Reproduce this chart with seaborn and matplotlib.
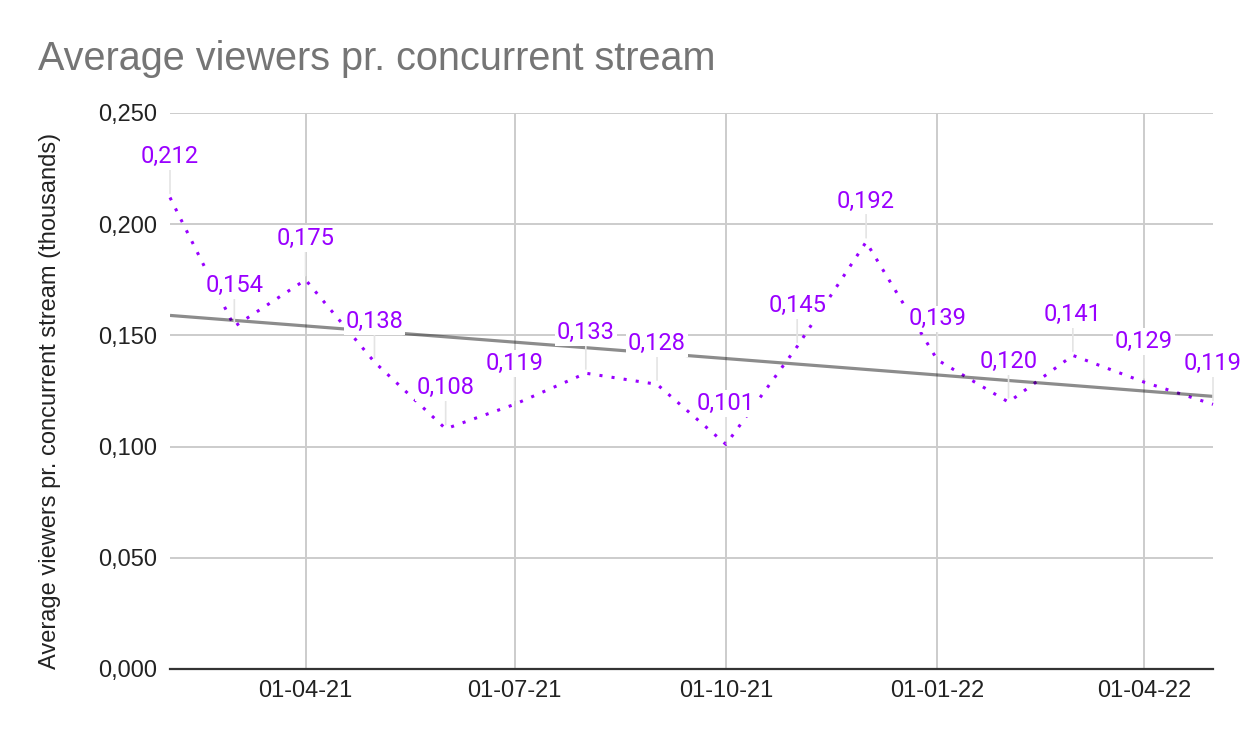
import matplotlib
matplotlib.use("Agg")
import matplotlib.pyplot as plt
import matplotlib.dates as mdates
from matplotlib.ticker import FuncFormatter, MultipleLocator
import seaborn as sns
import pandas as pd
import numpy as np

# ---- data ----
months = ["2021-02-01", "2021-03-01", "2021-04-01", "2021-05-01", "2021-06-01",
          "2021-07-01", "2021-08-01", "2021-09-01", "2021-10-01", "2021-11-01",
          "2021-12-01", "2022-01-01", "2022-02-01", "2022-03-01", "2022-04-01",
          "2022-05-01"]
viewers = [0.212, 0.154, 0.175, 0.138, 0.108, 0.119, 0.133, 0.128, 0.101,
           0.145, 0.192, 0.139, 0.120, 0.141, 0.129, 0.119]
x_ticks = ["2021-04-01", "2021-07-01", "2021-10-01", "2022-01-01", "2022-04-01"]
y_ticks = [0.0, 0.05, 0.10, 0.15, 0.20, 0.25]

title = "Average viewers pr. concurrent stream"
ylabel = "Average viewers pr. concurrent stream (thousands)"

df = pd.DataFrame({"date": pd.to_datetime(months), "viewers": viewers})
df["num"] = mdates.date2num(df["date"])

sns.set_style("white")
plt.rcParams["font.family"] = ["Liberation Sans", "DejaVu Sans"]

fig = plt.figure(figsize=(12.5, 7.42), dpi=100)
ax = fig.add_axes([170 / 1250, 73 / 742, 1043 / 1250, 556 / 742])

purple = "#9900ff"
sns.lineplot(data=df, x="date", y="viewers", ax=ax, color=purple,
             linewidth=2.2, linestyle=(0, (1, 3)), dash_capstyle="butt",
             zorder=3, clip_on=False)
sns.regplot(data=df, x="num", y="viewers", ax=ax, scatter=False, ci=None,
            truncate=True,
            line_kws=dict(color="black", alpha=0.45, linewidth=2.3, zorder=4,
                          solid_capstyle="butt"))

for d, v in zip(df["date"], df["viewers"]):
    ax.annotate(f"{v:.3f}".replace(".", ","), xy=(d, v),
                xytext=(0, 24.8), textcoords="offset points",
                ha="center", va="baseline", color=purple, fontsize=17,
                family=["Roboto", "DejaVu Sans"], annotation_clip=False,
                bbox=dict(boxstyle="square,pad=0.08", fc="white", ec="none"),
                arrowprops=dict(arrowstyle="-", color="#e4e4e4", lw=1.2,
                                shrinkA=0, shrinkB=3),
                zorder=6)

ax.set_xlim(mdates.date2num(pd.Timestamp(months[0])),
            mdates.date2num(pd.Timestamp(months[-1])))
ax.set_ylim(0, 0.25)
ax.set_xticks(pd.to_datetime(x_ticks))
ax.xaxis.set_major_formatter(mdates.DateFormatter("%d-%m-%y"))
ax.set_yticks(y_ticks)
ax.yaxis.set_major_formatter(FuncFormatter(lambda v, p: f"{v:.3f}".replace(".", ",")))

ax.grid(True, color="#cccccc", linewidth=1.4, zorder=0)
ax.set_axisbelow(True)
for s in ["top", "right", "left"]:
    ax.spines[s].set_visible(False)
ax.spines["bottom"].set_color("#333333")
ax.spines["bottom"].set_linewidth(1.6)
ax.spines["bottom"].set_zorder(2)

ax.tick_params(axis="both", length=0, labelsize=17, labelcolor="#222222")
ax.tick_params(axis="x", pad=8)
ax.tick_params(axis="y", pad=9)

ax.set_xlabel("")
ax.set_ylabel(ylabel, fontsize=17, color="#222222", va="center")
ax.yaxis.set_label_coords(-(170 - 50) / 1043, 0.483)

fig.text(38 / 1250, 1 - 70 / 742, title, fontsize=28.5, color="#757575",
         ha="left", va="baseline")

fig.savefig("out.png", dpi=100, facecolor="white")
